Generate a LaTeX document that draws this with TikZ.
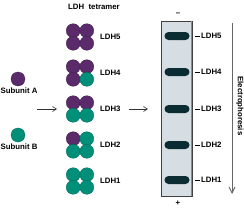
\documentclass[tikz,border=0pt]{standalone}
\usepackage{fontspec}
\setmainfont{Liberation Sans}
\usetikzlibrary{arrows.meta}
\definecolor{ldhpurple}{HTML}{5B2A6B}
\definecolor{ldhteal}{HTML}{00907A}
\definecolor{ldhgel}{HTML}{D6DEE4}
\definecolor{ldhdark}{HTML}{0B2C32}
\begin{document}
\begin{tikzpicture}[
  x=1pt, y=1pt,
  ldhA/.style = {circle, minimum size=14pt, inner sep=0pt, fill=ldhpurple, draw=ldhpurple!70!black, line width=0.3pt},
  ldhB/.style = {circle, minimum size=14pt, inner sep=0pt, fill=ldhteal, draw=ldhteal!70!black, line width=0.3pt},
  ldhlbl/.style = {font=\fontsize{7.8}{8}\selectfont\bfseries, inner sep=0pt},
  ldhband/.style = {rectangle, rounded corners=4pt, minimum width=25pt, minimum height=8pt, inner sep=0pt, fill=ldhdark},
  ldharrow/.style = {-{Straight Barb[length=4pt,width=5pt]}, line width=0.6pt, black!80}
]
  \useasboundingbox (0,0) rectangle (244,207);
  % subunits
  \node[ldhA] (subA) at (18,128) {};
  \node[ldhlbl] (subAlbl) at (19,116) {Subunit A};
  \node[ldhB] (subB) at (18,72) {};
  \node[ldhlbl] (subBlbl) at (19,60) {Subunit B};
  % tetramers
  \node[ldhlbl] (tetlbl) at (94,200) {LDH\ \ tetramer};
  \foreach \n/\y/\a/\b/\c/\d in {5/170/A/A/A/A, 4/134/A/A/A/B, 3/98/A/A/B/B, 2/62/A/B/B/B, 1/26/B/B/B/B} {
    \node[ldh\a] (t\n a) at (73.2,\y+6.3) {};
    \node[ldh\b] (t\n b) at (86.8,\y+6.3) {};
    \node[ldh\c] (t\n c) at (73.2,\y-6.3) {};
    \node[ldh\d] (t\n d) at (86.8,\y-6.3) {};
    \node[ldhlbl, anchor=west] (tl\n) at (100,\y) {LDH\n};
  }
  % arrows
  \coordinate (a1s) at (37,98);
  \coordinate (a1e) at (57,98);
  \draw[ldharrow] (a1s) -- (a1e);
  \coordinate (a2s) at (129,98);
  \coordinate (a2e) at (148,98);
  \draw[ldharrow] (a2s) -- (a2e);
  % gel
  \node[draw=black!75, line width=0.6pt, fill=ldhgel, minimum width=31pt, minimum height=175pt, inner sep=0pt] (gel) at (176.5,98.5) {};
  \draw[black!45, line width=1.2pt] ([xshift=-0.9pt]gel.north east) -- ([xshift=-0.9pt]gel.south east);
  \node[ldhlbl] (minus) at (178,193) {--};
  \node[ldhlbl] (plus) at (178,4) {+};
  \foreach \n/\y in {5/171, 4/135, 3/98, 2/62, 1/27} {
    \node[ldhband] (b\n) at (177,\y) {};
    \coordinate (d\n) at (195,\y);
    \draw[line width=0.6pt] (d\n) -- ++(4.5,0);
    \node[ldhlbl, anchor=west] (bl\n) at (201,\y) {LDH\n};
  }
  % electrophoresis
  \coordinate (es) at (232,184);
  \coordinate (ee) at (232,13);
  \draw[-{Straight Barb[length=6pt,width=6pt]}, line width=0.9pt, black!60] (es) -- (ee);
  \node[ldhlbl, rotate=-90] (elbl) at (240,101) {Electrophoresis};
\end{tikzpicture}
\end{document}
